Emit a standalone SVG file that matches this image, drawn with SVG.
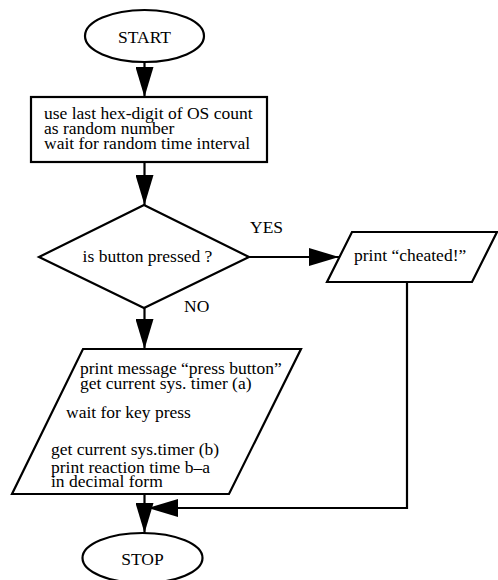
<svg xmlns="http://www.w3.org/2000/svg" width="498" height="580" viewBox="0 0 498 580">
<style>
.shape{fill:#fff;stroke:#000;stroke-width:2.2}
.conn{fill:none;stroke:#000;stroke-width:2.2}
text{font-family:"Liberation Serif","Times New Roman",serif;font-size:17.5px;fill:#000}
.c{text-anchor:middle}
</style>
<defs>
<marker id="ah" markerUnits="userSpaceOnUse" markerWidth="30" markerHeight="18" refX="30" refY="9" orient="auto" viewBox="0 0 30 18">
<path d="M0,0 L30,9 L0,18 z" fill="#000"/>
</marker>
</defs>
<rect width="498" height="580" fill="#fff"/>
<g id="connectors">
<line class="conn" x1="144.5" y1="62" x2="144.5" y2="97" marker-end="url(#ah)"/>
<line class="conn" x1="144.5" y1="162" x2="144.5" y2="205" marker-end="url(#ah)"/>
<line class="conn" x1="249" y1="257" x2="339" y2="257" marker-end="url(#ah)"/>
<line class="conn" x1="144.5" y1="308" x2="144.5" y2="349" marker-end="url(#ah)"/>
<line class="conn" x1="144.5" y1="494" x2="144.5" y2="533" marker-end="url(#ah)"/>
<polyline class="conn" points="407,282 407,508 148,508" marker-end="url(#ah)"/>
<text x="250" y="233">YES</text>
<text x="184" y="312">NO</text>
</g>
<g id="start">
<ellipse class="shape" cx="144.5" cy="36" rx="59.5" ry="26"/>
<text class="c" x="144.5" y="43">START</text>
</g>
<g id="random">
<rect class="shape" x="31" y="97" width="236" height="65"/>
<text x="44" y="119">use last hex-digit of OS count</text>
<text x="44" y="134">as random number</text>
<text x="44" y="149">wait for random time interval</text>
</g>
<g id="decision">
<polygon class="shape" points="144,205 249,257 144,308 39,257"/>
<text class="c" x="147.5" y="262">is button pressed ?</text>
</g>
<g id="cheated">
<polygon class="shape" points="352,232 497,232 472,282 327,282"/>
<text x="354" y="261">print “cheated!”</text>
</g>
<g id="measure">
<polygon class="shape" points="83,349 301,349 229,494 12,494"/>
<text x="80" y="374">print message “press button”</text>
<text x="80" y="388.5">get current sys. timer (a)</text>
<text x="66" y="418">wait for key press</text>
<text x="51" y="455">get current sys.timer (b)</text>
<text x="51" y="473">print reaction time b–a</text>
<text x="51" y="487">in decimal form</text>
</g>
<g id="stop">
<ellipse class="shape" cx="142.5" cy="558" rx="60" ry="25"/>
<text class="c" x="142.5" y="565">STOP</text>
</g>
</svg>
